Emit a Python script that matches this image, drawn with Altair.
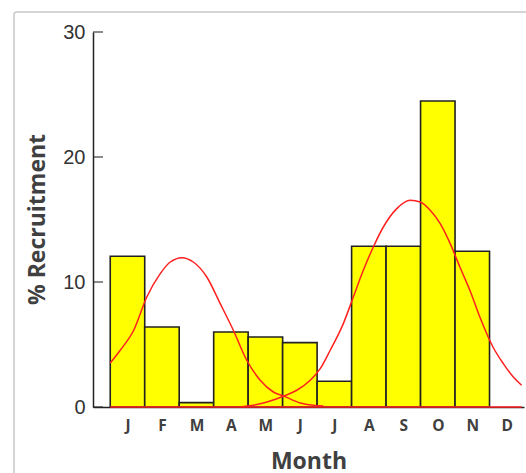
import altair as alt
import pandas as pd

# ---- data ----
months = ["J", "F", "M", "A", "M", "J", "J", "A", "S", "O", "N", "D"]
recruitment = [12.06, 6.4, 0.35, 6.0, 5.6, 5.15, 2.06, 12.86, 12.86, 24.48, 12.46, 0.0]

# fitted curve 1 (x in month units, 0 = start of January)
curve1_x = [0.0, 0.29, 0.68, 1.06, 1.45, 1.74, 2.08, 2.41, 2.80, 3.19, 3.57, 3.96,
            4.35, 4.73, 5.05, 5.51, 5.89, 6.18]
curve1_y = [3.52, 4.54, 6.14, 8.8, 10.67, 11.6, 11.95, 11.6, 10.4, 8.27, 6.14, 3.74,
            2.14, 1.2, 0.85, 0.32, 0.14, 0.08]
# fitted curve 2
curve2_x = [3.80, 4.25, 4.64, 5.02, 5.41, 5.80, 6.09, 6.38, 6.76, 7.05, 7.34, 7.63,
            7.92, 8.31, 8.70, 8.99, 9.28, 9.57, 9.86, 10.14, 10.43, 10.72, 11.10,
            11.40, 11.69, 11.93]
curve2_y = [0.02, 0.2, 0.48, 0.86, 1.34, 2.14, 3.07, 4.54, 6.67, 8.8, 10.94, 12.8,
            14.4, 15.87, 16.54, 16.4, 15.74, 14.67, 13.07, 11.2, 9.34, 7.2, 4.8,
            3.47, 2.4, 1.74]
baseline_x = [0.0, 11.93]
baseline_y = [0.0, 0.0]
y_ticks = [0, 10, 20, 30]

bars = pd.DataFrame({
    "start": list(range(len(months))),
    "end": [i + 1 for i in range(len(months))],
    "value": recruitment,
})
curves = pd.concat([
    pd.DataFrame({"x": curve1_x, "y": curve1_y, "s": "c1"}),
    pd.DataFrame({"x": curve2_x, "y": curve2_y, "s": "c2"}),
    pd.DataFrame({"x": baseline_x, "y": baseline_y, "s": "base"}),
])
ticks = pd.DataFrame({"v": y_ticks})

label_arr = "[" + ",".join("'%s'" % m for m in months) + "]"

x_scale = alt.Scale(domain=[-0.5, 12.0], nice=False, zero=False)
y_scale = alt.Scale(domain=[0, 30], nice=False)

TITLE_FONT = "Open Sans"

x_axis = alt.Axis(values=[i + 0.5 for i in range(len(months))],
                  labelExpr=label_arr + "[round(datum.value - 0.5)]",
                  labelOverlap=False, labelBound=False, labelFlush=False,
                  title="Month", ticks=False, grid=False,
                  domainColor="#222222", domainWidth=1.5,
                  labelFont=TITLE_FONT, labelFontWeight="bold",
                  labelFontSize=15.5, labelColor="#404040",
                  labelBaseline="alphabetic", labelPadding=23,
                  titleFont=TITLE_FONT, titleFontWeight="bold",
                  titleFontSize=23, titleColor="#404040",
                  titleBaseline="alphabetic", titleY=61)
y_axis = alt.Axis(values=y_ticks, title="% Recruitment", ticks=False,
                  labelOverlap=False,
                  grid=False, domainColor="#222222", domainWidth=1.5,
                  labelFont="Liberation Sans", labelFontSize=20,
                  labelColor="#333333", labelPadding=8,
                  titleFont=TITLE_FONT, titleFontWeight="bold",
                  titleFontSize=23, titleColor="#404040",
                  titleAngle=-90, titleBaseline="alphabetic",
                  titleX=-49, titleY=187)

bar_layer = alt.Chart(bars).mark_rect(
    color="#ffff00", stroke="#222222", strokeWidth=1.6
).encode(
    x=alt.X("start:Q", scale=x_scale, axis=x_axis),
    x2="end:Q",
    y=alt.Y("value:Q", scale=y_scale, axis=y_axis),
    y2=alt.datum(0),
).transform_filter("datum.value > 0")

curve_layer = alt.Chart(curves).mark_line(
    color="#ff2020", strokeWidth=1.5, interpolate="monotone"
).encode(
    x=alt.X("x:Q", scale=x_scale, axis=x_axis),
    y=alt.Y("y:Q", scale=y_scale, axis=y_axis),
    detail="s:N",
)

tick_layer = alt.Chart(ticks).mark_tick(
    orient="horizontal", size=10, thickness=1.5, color="#222222"
).encode(
    y=alt.Y("v:Q", scale=y_scale, axis=y_axis),
    x=alt.value(5),
)

frame = alt.Chart(ticks).mark_rect(
    fill=None, stroke="#c8c8c8", strokeWidth=1.5, cornerRadius=3, clip=False
).encode(
    x=alt.value(-79), x2=alt.value(600), y=alt.value(-20), y2=alt.value(600)
).transform_filter("datum.v == 0")

chart = alt.layer(frame, bar_layer, curve_layer, tick_layer).properties(
    width=431, height=375,
    background="white",
    autosize=alt.AutoSizeParams(type="none"),
    padding={"left": 93, "top": 32, "right": 2, "bottom": 66},
).configure_view(stroke=None).configure_axis(labelOverlap=False)

chart.save("out.html", embed_options={"renderer": "svg", "actions": False})
